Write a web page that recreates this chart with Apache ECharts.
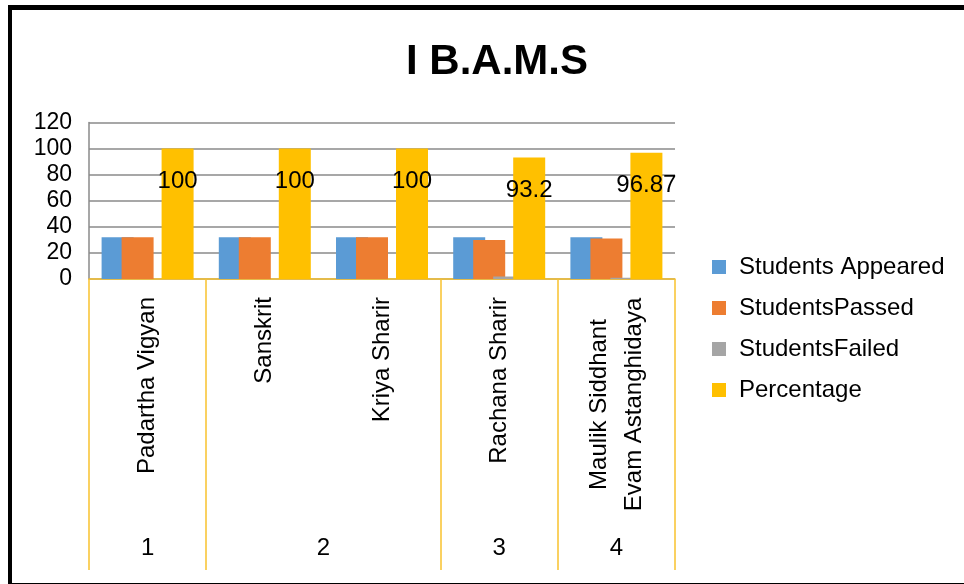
<!DOCTYPE html>
<html>
<head>
<meta charset="utf-8">
<script src="https://cdn.jsdelivr.net/npm/echarts@6/dist/echarts.min.js"></script>
<style>
  html, body { margin: 0; padding: 0; background: #fff; }
  #wrap { position: relative; width: 964px; height: 584px; overflow: hidden; }
  #chart { position: absolute; left: 0; top: 0; width: 964px; height: 584px; }
  #frame { position: absolute; left: 8px; top: 5px; width: 1000px; height: 573px;
           border-left: 4px solid #000; border-top: 5px solid #000; border-bottom: 4px solid #000;
           pointer-events: none; }
</style>
</head>
<body>
<div id="wrap"><div id="chart"></div><div id="frame"></div></div>
<script>
const titleText = 'I B.A.M.S';
const categories = ['Padartha Vigyan', 'Sanskrit', 'Kriya Sharir', 'Rachana Sharir', 'Maulik Siddhant\nEvam Astanghidaya'];
const groupLabels = ['1', '2', '3', '4'];
const groupSpans = [1, 2, 1, 1];
const seriesNames = ['Students Appeared', 'StudentsPassed', 'StudentsFailed', 'Percentage'];
const appeared = [32, 32, 32, 32, 32];
const passed = [32, 32, 32, 30, 31];
const failed = [0, 0, 0, 2, 1];
const percentage = [100, 100, 100, 93.2, 96.87];
const yTicks = [0, 20, 40, 60, 80, 100, 120];

const colors = ['#5B9BD5', '#ED7D31', '#A5A5A5', '#FFC000'];
const axisYellow = '#F9C22E';
const font = 'Liberation Sans, Arial, sans-serif';

// group boundaries and centres (in category units)
const boundaries = [0];
const centers = [];
groupSpans.forEach((s) => {
  const start = boundaries[boundaries.length - 1];
  centers.push(start + s / 2);
  boundaries.push(start + s);
});

const chart = echarts.init(document.getElementById('chart'), null, { renderer: 'canvas' });

const barCommon = { type: 'bar', barWidth: 32, barGap: '-37.5%', xAxisIndex: 0, yAxisIndex: 0 };

chart.setOption({
  animation: false,
  backgroundColor: '#fff',
  title: {
    text: titleText, left: 492, top: 36, textAlign: 'center',
    textStyle: { fontFamily: font, fontWeight: 'bold', fontSize: 42, color: '#000' }
  },
  legend: {
    orient: 'vertical', left: 712, top: 255, padding: 0,
    itemWidth: 14, itemHeight: 14, itemGap: 17, icon: 'rect',
    data: seriesNames,
    textStyle: { fontFamily: font, fontSize: 24, color: '#000', padding: [0, 0, 0, 8] }
  },
  grid: { left: 89, right: 289, top: 122.5, bottom: 305, containLabel: false },
  xAxis: [
    {
      type: 'category', data: categories, position: 'bottom',
      axisLine: { show: true, lineStyle: { color: axisYellow, width: 1.5 } },
      axisTick: { show: false },
      axisLabel: {
        rotate: 90, margin: 18, interval: 0, fontFamily: font, fontSize: 24, color: '#000',
        formatter: function (v) {
          if (v.indexOf('\n') >= 0) {
            return v.split('\n').map(l => '{c|' + l + '}').join('\n');
          }
          return v;
        },
        rich: { c: { width: 215, align: 'center', fontFamily: font, fontSize: 24, color: '#000', lineHeight: 35 } }
      },
      splitLine: { show: false }
    },
    {
      type: 'value', min: 0, max: categories.length, position: 'bottom',
      axisLine: { show: false },
      splitLine: { show: false },
      axisTick: { show: true, customValues: boundaries, length: 291, inside: false,
                  lineStyle: { color: axisYellow, width: 1.5 } },
      axisLabel: {
        customValues: centers, margin: 257, fontFamily: font, fontSize: 24, color: '#000',
        formatter: function (v) {
          const i = centers.indexOf(v);
          return i >= 0 ? groupLabels[i] : '';
        }
      }
    }
  ],
  yAxis: {
    type: 'value', min: yTicks[0], max: yTicks[yTicks.length - 1], interval: yTicks[1] - yTicks[0],
    axisLine: { show: true, lineStyle: { color: '#8A8A8A', width: 1.5 } },
    axisTick: { show: false },
    axisLabel: { margin: 17, fontFamily: font, fontSize: 23, color: '#000' },
    splitLine: { show: true, lineStyle: { color: '#8A8A8A', width: 1.5 } }
  },
  series: [
    Object.assign({}, barCommon, { name: seriesNames[0], data: appeared, itemStyle: { color: colors[0] } }),
    Object.assign({}, barCommon, { name: seriesNames[1], data: passed, itemStyle: { color: colors[1] } }),
    Object.assign({}, barCommon, { name: seriesNames[2], data: failed, itemStyle: { color: colors[2] } }),
    Object.assign({}, barCommon, {
      name: seriesNames[3], data: percentage, itemStyle: { color: colors[3] },
      label: { show: true, position: 'insideTop', distance: 21, fontFamily: font, fontSize: 24, color: '#000',
               formatter: p => String(p.value) }
    })
  ]
});
</script>
</body>
</html>
